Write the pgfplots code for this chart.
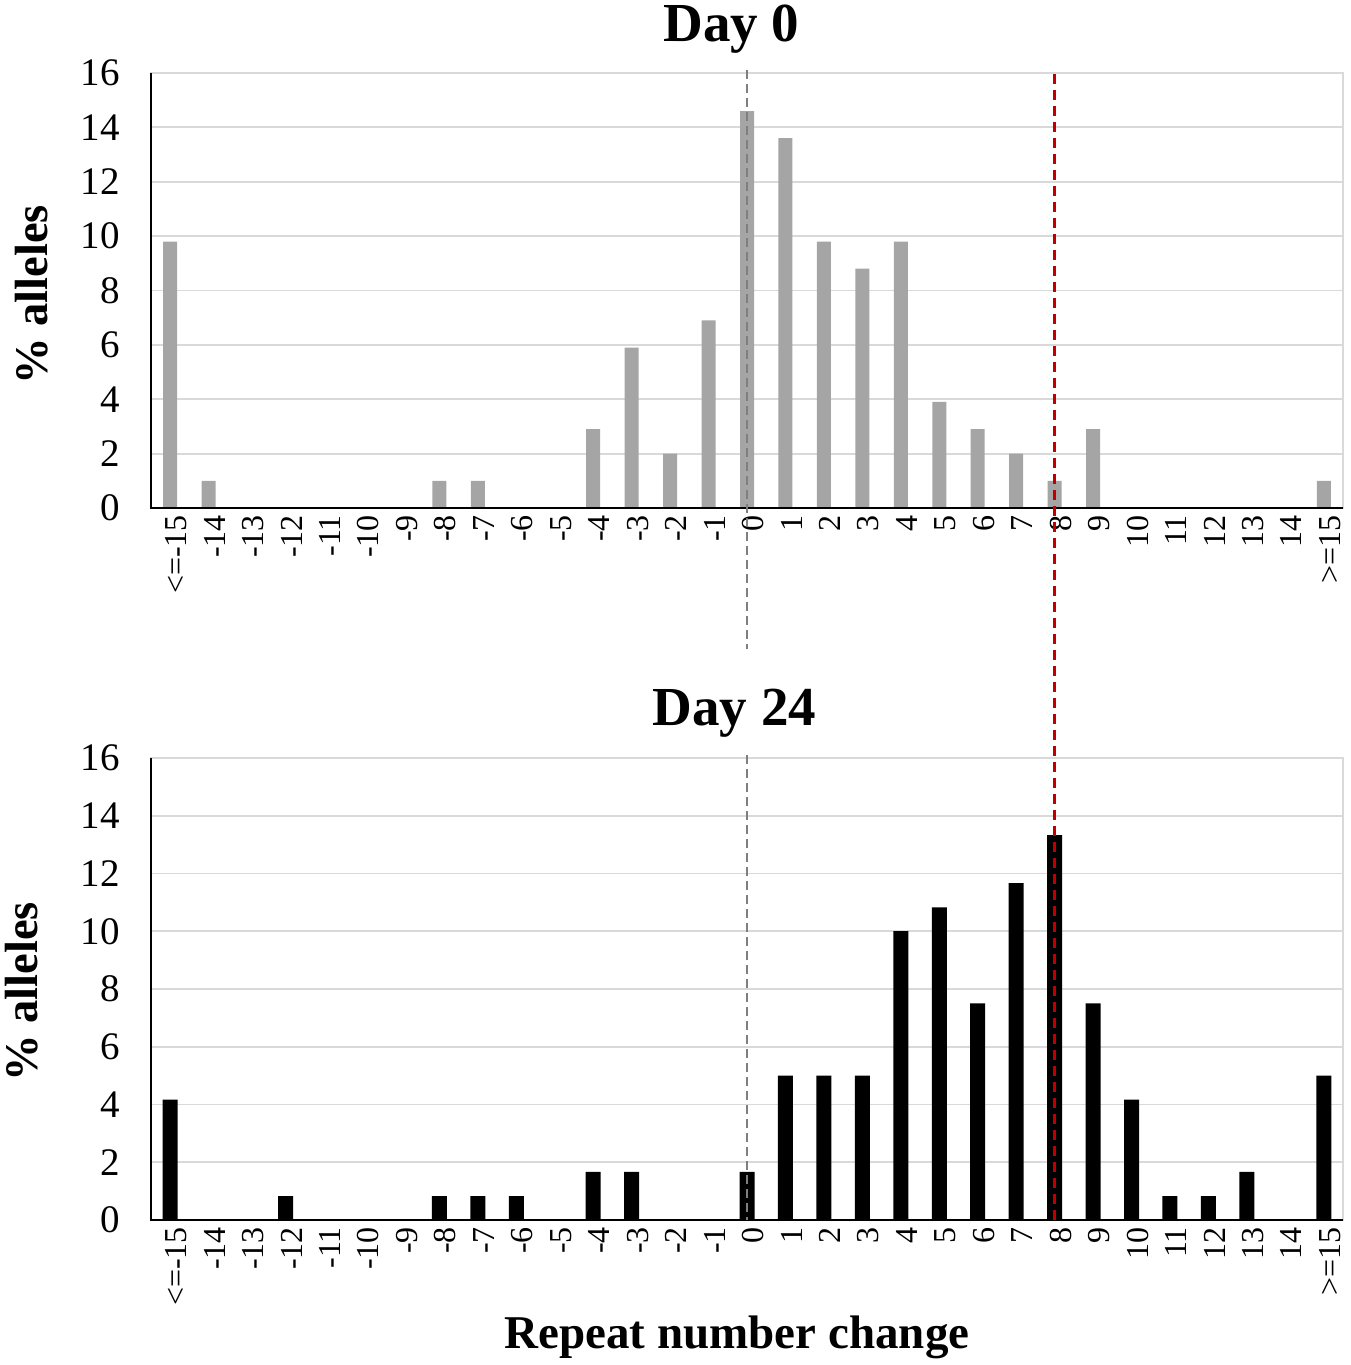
\documentclass[border=0pt]{standalone}
\usepackage{fontspec}
\setmainfont{Liberation Serif}
\usepackage{pgfplots}
\pgfplotsset{compat=1.18}
\definecolor{bargray}{HTML}{A5A5A5}
\definecolor{gridgray}{HTML}{D9D9D9}
\definecolor{dashgray}{HTML}{7F7F7F}
\definecolor{dashred}{HTML}{C00000}
\pgfplotsset{
  mybase/.style={
    scale only axis, width=596pt,
    xmin=-0.5, xmax=30.5, ymin=0, ymax=16,
    ytick={0,2,...,16},
    xtick={0,...,30},
    xticklabels={{<=-15},-14,-13,-12,-11,-10,-9,-8,-7,-6,-5,-4,-3,-2,-1,0,1,2,3,4,5,6,7,8,9,10,11,12,13,14,{>=15}},
    major tick length=0pt,
    ymajorgrids, grid style={gridgray, line width=0.9pt},
    axis line style={gridgray, line width=0.9pt},
    /pgf/number format/assume math mode=true,
    xticklabel style={rotate=90, anchor=east, yshift=-3pt, font=\fontsize{16}{16}\selectfont},
    yticklabel style={xshift=-12pt, font=\fontsize{19.5}{19.5}\selectfont},
    ybar, bar shift=0pt,
    clip=false,
  }
}
\begin{document}
\begin{tikzpicture}
\useasboundingbox (0,0) rectangle (675pt,682.5pt);
% Top panel: Day 0
\begin{axis}[mybase, height=217.5pt, at={(75.5pt,428.5pt)}, anchor=south west]
\addplot[fill=bargray, draw=none, bar width=7pt] coordinates {
(0,9.8) (1,1.0) (2,0) (3,0) (4,0) (5,0) (6,0) (7,1.0) (8,1.0) (9,0) (10,0)
(11,2.9) (12,5.9) (13,2.0) (14,6.9) (15,14.6) (16,13.6) (17,9.8) (18,8.8)
(19,9.8) (20,3.9) (21,2.9) (22,2.0) (23,1.0) (24,2.9) (25,0) (26,0) (27,0)
(28,0) (29,0) (30,1.0)};
\draw[black, line width=1pt] (rel axis cs:0,1) -- (rel axis cs:0,0) -- (rel axis cs:1,0);
\draw[dashgray, line width=1.1pt, dash pattern=on 4.5pt off 2.5pt] (axis cs:15,16.1) -- (axis cs:15,-5.2);
\end{axis}
% Bottom panel: Day 24
\begin{axis}[mybase, height=231pt, at={(75.5pt,72.5pt)}, anchor=south west]
\addplot[fill=black, draw=none, bar width=7.5pt] coordinates {
(0,4.17) (1,0) (2,0) (3,0.83) (4,0) (5,0) (6,0) (7,0.83) (8,0.83) (9,0.83)
(10,0) (11,1.67) (12,1.67) (13,0) (14,0) (15,1.67) (16,5.0) (17,5.0) (18,5.0)
(19,10.0) (20,10.83) (21,7.5) (22,11.67) (23,13.33) (24,7.5) (25,4.17)
(26,0.83) (27,0.83) (28,1.67) (29,0) (30,5.0)};
\draw[black, line width=1pt] (rel axis cs:0,1) -- (rel axis cs:0,0) -- (rel axis cs:1,0);
\draw[dashgray, line width=1.1pt, dash pattern=on 4.5pt off 2.5pt] (axis cs:15,16.1) -- (axis cs:15,0);
\draw[dashred, line width=1.3pt, dash pattern=on 5pt off 3pt] (axis cs:23,0) -- (axis cs:23,39.8);
\end{axis}
% Titles and labels
\node[anchor=base, font=\fontsize{27.5}{27.5}\selectfont\bfseries] at (365.75pt,661.5pt) {Day 0};
\node[anchor=base, font=\fontsize{27.5}{27.5}\selectfont\bfseries] at (367.25pt,319.5pt) {Day 24};
\node[rotate=90, font=\fontsize{23.3}{23.3}\selectfont\bfseries] at (16pt,535pt) {\% alleles};
\node[rotate=90, font=\fontsize{23.3}{23.3}\selectfont\bfseries] at (11pt,186.5pt) {\% alleles};
\node[anchor=base, font=\fontsize{23.5}{23.5}\selectfont\bfseries] at (368.5pt,8.5pt) {Repeat number change};
\end{tikzpicture}
\end{document}
